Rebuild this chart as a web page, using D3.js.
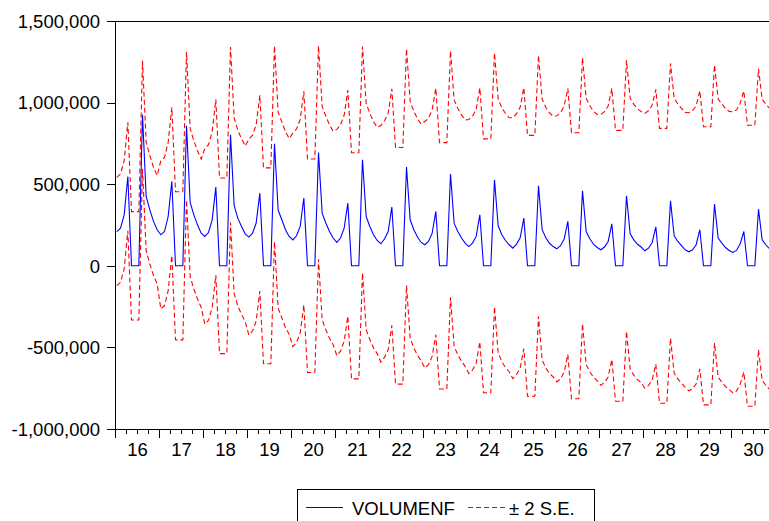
<!DOCTYPE html>
<html>
<head>
<meta charset="utf-8">
<script src="https://cdn.jsdelivr.net/npm/d3@7"></script>
<style>
  html, body { margin: 0; padding: 0; background: #fff; overflow: hidden; }
  svg { display: block; }
  text { font-family: "Liberation Sans", Arial, sans-serif; fill: #000; }
</style>
</head>
<body>
<svg id="chart" width="769" height="521"></svg>
<script>
// Forecast years (monthly observations, Jan..Dec each year)
const years = [2016, 2017, 2018, 2019, 2020, 2021, 2022, 2023, 2024, 2025, 2026, 2027, 2028, 2029, 2030];
const yearLabels = ["16", "17", "18", "19", "20", "21", "22", "23", "24", "25", "26", "27", "28", "29", "30"];

// VOLUMENF: monthly forecast, one row per year
const volumenf = [
  210000, 231000, 312000, 547000, 0, 0, 0, 925000, 425000, 343000, 272000, 221000,
  190000, 210000, 302000, 517000, 0, 0, 0, 858000, 388000, 312000, 251000, 200000,
  180000, 204000, 282000, 482000, 0, 0, 0, 803000, 368000, 292000, 241000, 196000,
  176000, 200000, 262000, 445000, 0, 0, 0, 748000, 340000, 282000, 221000, 180000,
  159000, 184000, 241000, 415000, 0, 0, 0, 694000, 323000, 262000, 210000, 170000,
  143000, 170000, 231000, 384000, 0, 0, 0, 650000, 302000, 241000, 190000, 155000,
  135000, 164000, 210000, 360000, 0, 0, 0, 605000, 282000, 221000, 176000, 143000,
  129000, 149000, 200000, 333000, 0, 0, 0, 562000, 260000, 210000, 170000, 139000,
  118000, 139000, 180000, 312000, 0, 0, 0, 527000, 245000, 190000, 155000, 129000,
  108000, 133000, 172000, 292000, 0, 0, 0, 490000, 221000, 172000, 138000, 118000,
  104000, 123000, 164000, 272000, 0, 0, 0, 460000, 210000, 166000, 132000, 112000,
   98000, 115000, 149000, 257000, 0, 0, 0, 429000, 196000, 159000, 132000, 115000,
   92000, 108000, 143000, 239000, 0, 0, 0, 398000, 184000, 149000, 123000,  98000,
   86000,  98000, 129000, 221000, 0, 0, 0, 378000, 170000, 139000, 112000,  94000,
   82000,  94000, 135000, 210000, 0, 0, 0, 347000, 159000, 129000, 104000,  88000
];

// Forecast standard error for each forecast year
const forecastSE = [166000, 227000, 269000, 300000, 327000, 346500, 362500, 377500,
                    389000, 399500, 407500, 415000, 421000, 426000, 430500];

const yTicks = [-1000000, -500000, 0, 500000, 1000000, 1500000];

// Bands: forecast +/- 2 standard errors
const upperBand = volumenf.map((v, i) => v + 2 * forecastSE[Math.floor(i / 12)]);
const lowerBand = volumenf.map((v, i) => v - 2 * forecastSE[Math.floor(i / 12)]);

const svg = d3.select("#chart");
const plot = { left: 115, top: 21, bottom: 429, right: 775 };
const nObs = years.length * 12;

const x = d3.scaleLinear().domain([0, nObs]).range([plot.left, plot.right]);
const y = d3.scaleLinear().domain([-1000000, 1500000]).range([plot.bottom, plot.top]);

const locale = d3.formatLocale({ decimal: ".", thousands: ",", grouping: [3], currency: ["", ""], minus: "-" });
const fmt = locale.format(",");

// Frame
svg.append("rect")
  .attr("x", plot.left).attr("y", plot.top)
  .attr("width", plot.right - plot.left).attr("height", plot.bottom - plot.top)
  .attr("fill", "none").attr("stroke", "#000").attr("stroke-width", 1)
  .attr("shape-rendering", "crispEdges");

// Y axis
const yAxis = svg.append("g")
  .attr("transform", `translate(${plot.left},0)`)
  .call(d3.axisLeft(y).tickValues(yTicks).tickSize(8).tickPadding(7).tickFormat(fmt));
yAxis.selectAll("text").style("font-size", "18.5px").attr("dy", "0.34em");

// X axis: quarter ticks, year ticks, year labels
const quarterTicks = d3.range(0, nObs + 1, 3);
const yearTicks = d3.range(0, nObs + 1, 12);
const yearMids = years.map((yr, k) => k * 12 + 6);

const xMinor = svg.append("g")
  .attr("transform", `translate(0,${plot.bottom})`)
  .call(d3.axisBottom(x).tickValues(quarterTicks).tickSize(5).tickFormat(""));
const xMajor = svg.append("g")
  .attr("transform", `translate(0,${plot.bottom})`)
  .call(d3.axisBottom(x).tickValues(yearTicks).tickSize(9).tickFormat(""));
const xLabels = svg.append("g")
  .attr("transform", `translate(0,${plot.bottom})`)
  .call(d3.axisBottom(x).tickValues(yearMids).tickSize(0).tickPadding(14)
        .tickFormat((d, k) => yearLabels[k]));
xLabels.selectAll("text").style("font-size", "18.5px");

[yAxis, xMinor, xMajor, xLabels].forEach(g => {
  g.select(".domain").attr("stroke", "#000").attr("shape-rendering", "crispEdges");
  g.selectAll(".tick line").attr("stroke", "#000").attr("shape-rendering", "crispEdges");
});
xLabels.select(".domain").remove();

// Series
const line = d3.line().x((d, i) => x(i + 0.5)).y(d => y(d));

svg.append("path").datum(volumenf)
  .attr("d", line).attr("fill", "none")
  .attr("stroke", "#0000ff").attr("stroke-width", 1.1);

[upperBand, lowerBand].forEach(band => {
  svg.append("path").datum(band)
    .attr("d", line).attr("fill", "none")
    .attr("stroke", "#ff0000").attr("stroke-width", 1.1)
    .attr("stroke-dasharray", "5,3");
});

// Legend
const legend = svg.append("g");
legend.append("rect")
  .attr("x", 297).attr("y", 489).attr("width", 297).attr("height", 50)
  .attr("fill", "#fff").attr("stroke", "#000").attr("stroke-width", 1)
  .attr("shape-rendering", "crispEdges");
legend.append("line")
  .attr("x1", 306).attr("x2", 343).attr("y1", 507.5).attr("y2", 507.5)
  .attr("stroke", "#0000ff").attr("stroke-width", 1.1);
legend.append("text").attr("x", 352).attr("y", 514.5)
  .style("font-size", "18.5px").text("VOLUMENF");
legend.append("line")
  .attr("x1", 468).attr("x2", 505).attr("y1", 507.5).attr("y2", 507.5)
  .attr("stroke", "#ff0000").attr("stroke-width", 1.1)
  .attr("stroke-dasharray", "5,3");
legend.append("text").attr("x", 509).attr("y", 514.5)
  .style("font-size", "18.5px").text("± 2 S.E.");
</script>
</body>
</html>
